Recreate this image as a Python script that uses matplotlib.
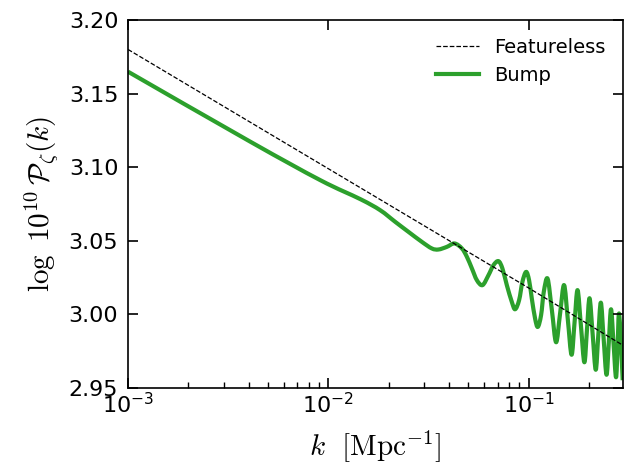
import numpy as np
import matplotlib
matplotlib.use("Agg")
from matplotlib import pyplot as plt
from matplotlib.lines import Line2D
from matplotlib.patches import PathPatch
from matplotlib.path import Path
from matplotlib.ticker import FormatStrFormatter, NullLocator

plt.rcParams['mathtext.fontset'] = 'cm'

# featureless (power-law) spectrum
log_k_feat = [-3.0, -2.0, -1.0, -0.529]
p_feat = [3.180, 3.099, 3.018, 2.979]

# bump model (log10 k, log 10^10 P)
log_k_bump = [-3.000, -2.389, -2.040, -1.840, -1.741, -1.666, -1.600, -1.533,
              -1.483, -1.450, -1.408, -1.370, -1.333, -1.308, -1.283, -1.258,
              -1.230, -1.2005, -1.1756, -1.1506, -1.1307, -1.1087, -1.0838,
              -1.0673, -1.0474, -1.0309, -1.0125, -0.9975, -0.984, -0.9676,
              -0.9541, -0.9377, -0.9242, -0.9052, -0.8838, -0.8628, -0.8429,
              -0.8229, -0.804, -0.7855, -0.7706, -0.7556, -0.7386, -0.7217,
              -0.7087, -0.6958, -0.6803, -0.6648, -0.6524, -0.6394, -0.6254,
              -0.611, -0.5995, -0.5885, -0.576, -0.5636, -0.5556, -0.5476,
              -0.5301]
p_bump = [3.1649, 3.1173, 3.0912, 3.0783, 3.0708, 3.0629, 3.0561, 3.0493,
          3.0448, 3.0441, 3.0459, 3.0482, 3.0448, 3.0391, 3.0312, 3.0232,
          3.0199, 3.0266, 3.0334, 3.0362, 3.0312, 3.0199, 3.0085,
          3.0035, 3.0097, 3.0221, 3.0289, 3.0232, 3.0108, 2.9972,
          2.9915, 2.9995, 3.0153, 3.0243, 3.0029, 2.9811, 3.0005,
          3.0199, 2.9962, 2.9726, 2.9945, 3.0165, 2.9920, 2.9675,
          2.9893, 3.0110, 2.9867, 2.9624, 2.9852, 3.0080, 2.9835,
          2.9590, 2.9812, 3.0035, 2.9804, 2.9573, 2.9787, 3.0001,
          2.9553]

green = '#2ca02c'


def smooth_path(lx, y):
    # draw a smooth curve through the read points (Catmull-Rom as cubic Bezier)
    lx = np.asarray(lx)
    y = np.asarray(y)
    n = len(lx)
    verts = [(lx[0], y[0])]
    codes = [Path.MOVETO]
    for i in range(n - 1):
        i0 = max(i - 1, 0)
        i3 = min(i + 2, n - 1)
        c1 = (lx[i] + (lx[i + 1] - lx[i0]) / 6, y[i] + (y[i + 1] - y[i0]) / 6)
        c2 = (lx[i + 1] - (lx[i3] - lx[i]) / 6, y[i + 1] - (y[i3] - y[i]) / 6)
        verts += [c1, c2, (lx[i + 1], y[i + 1])]
        codes += [Path.CURVE4] * 3
    verts = [(10.0 ** a, b) for a, b in verts]
    return Path(verts, codes)


fig = plt.figure(figsize=(6.25, 4.74), dpi=100)
ax = fig.add_axes([0.2048, 0.1814, 0.7920, 0.7764])

ax.plot(np.power(10.0, log_k_feat), p_feat, ls='--', color='black', lw=0.9)
ax.add_patch(PathPatch(smooth_path(log_k_bump, p_bump), facecolor='none',
                       edgecolor=green, lw=3, joinstyle='round',
                       capstyle='butt', transform=ax.transData))

ax.set_xscale('log')
ax.set_xlim(1e-3, 0.296)
ax.set_ylim(2.95, 3.20)
ax.set_yticks([2.95, 3.00, 3.05, 3.10, 3.15, 3.20])
ax.yaxis.set_major_formatter(FormatStrFormatter('%.2f'))
ax.yaxis.set_minor_locator(NullLocator())

ax.tick_params(which='both', direction='in', labelsize=16)
ax.tick_params(which='major', length=7, width=1.2, top=True, right=True)
ax.tick_params(axis='y', which='major', pad=7)
ax.tick_params(axis='x', which='major', pad=3)
ax.tick_params(which='minor', length=4, width=1.0, bottom=True, top=False)
for s in ax.spines.values():
    s.set_linewidth(1.2)

ax.set_xlabel(r'$k\ \ [\mathrm{Mpc}^{-1}]$', fontsize=21, labelpad=8)
ax.set_ylabel(r'$\log\ 10^{10}\,\mathcal{P}_{\zeta}(k)$', fontsize=21,
              labelpad=6)

handles = [Line2D([], [], ls='--', color='black', lw=0.9),
           Line2D([], [], color=green, lw=3)]
ax.legend(handles, ['Featureless', 'Bump'], loc='upper right', frameon=False,
          fontsize=14, handlelength=2.2)

fig.savefig('out.png', dpi=100)
